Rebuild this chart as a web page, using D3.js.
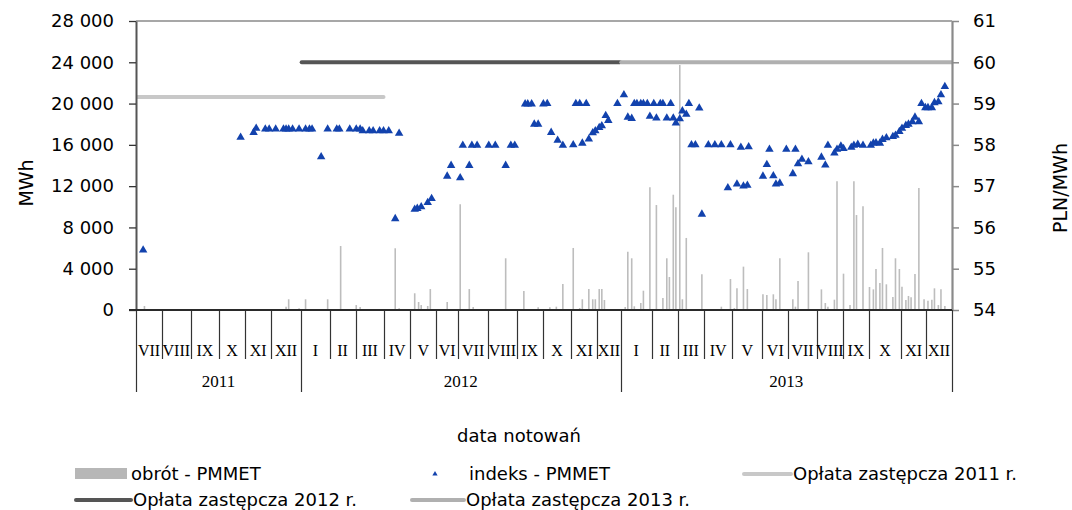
<!DOCTYPE html>
<html>
<head>
<meta charset="utf-8">
<script src="https://cdn.jsdelivr.net/npm/d3@7/dist/d3.min.js"></script>
<style>
    body { margin: 0; background: #fff; }
    svg { display: block; }
    text { font-family: 'DejaVu Sans', sans-serif; }
    .cat text { font-family: 'Liberation Serif', 'Times New Roman', serif; }
</style>
</head>
<body>
<div id="chart"></div>
<script>
const width = 1072;
const height = 510;

// trading sessions per month, Jul 2011 .. Dec 2013
const monthLabels = ['VII', 'VIII', 'IX', 'X', 'XI', 'XII',
    'I', 'II', 'III', 'IV', 'V', 'VI', 'VII', 'VIII', 'IX', 'X', 'XI', 'XII',
    'I', 'II', 'III', 'IV', 'V', 'VI', 'VII', 'VIII', 'IX', 'X', 'XI', 'XII'];
const monthSessions = [20, 22, 22, 20, 20, 23,
    22, 20, 22, 20, 20, 17, 23, 22, 20, 22, 20, 18,
    24, 20, 20, 22, 23, 20, 22, 20, 20, 25, 19, 20];
const yearLabels = ['2011', '2012', '2013'];
const yearMonths = [6, 12, 12];

// obrót - PMMET (MWh), by session number
const turnoverSessions = [6, 115, 117, 125, 130, 147, 157, 169, 172, 199, 202, 214, 217, 219, 224, 226, 239, 249, 256, 259,
    284, 298, 309, 318, 323, 328, 336, 341, 343, 348, 351, 353, 356, 358, 360, 376, 378, 381, 383, 388,
    390, 395, 400, 405, 408, 410, 413, 415, 418, 420, 423, 435, 450, 457, 460, 462, 467, 470, 482, 485,
    490, 492, 495, 505, 507, 509, 512, 517, 527, 530, 532, 537, 539, 544, 549, 552, 554, 559, 564, 567,
    569, 572, 574, 577, 582, 584, 587, 589, 592, 594, 596, 599, 602, 606, 609, 612, 614, 617, 619, 622];
const turnoverValues = [390, 320, 1040, 160, 1040, 1040, 6200, 480, 290, 5980, 160, 1620, 775, 480, 390, 2030, 775, 10240, 2030, 290,
    5010, 1840, 260, 260, 320, 2520, 6010, 190, 1040, 2030, 1040, 1040, 2030, 2030, 970, 290, 5650, 5010, 360, 680,
    1870, 11890, 10170, 1160, 5010, 3200, 11170, 9950, 23740, 1040, 6980, 3460, 320, 3000, 190, 2100, 4200, 2030, 1520, 1450,
    1520, 1040, 5010, 1040, 320, 2810, 80, 5590, 2000, 680, 320, 1000, 12470, 3520, 480, 12470, 9200, 10050, 2230, 2000,
    3970, 2620, 6010, 2490, 1260, 5010, 3970, 2260, 970, 1360, 1230, 3490, 11820, 1040, 900, 1000, 2100, 480, 2000, 390];

// indeks - PMMET (PLN/MWh), by session number
const indexSessions = [5, 80, 90, 92, 99, 102, 107, 113, 115, 117, 120, 125, 130, 133, 135, 142, 147, 154, 156, 164,
    169, 172, 174, 179, 182, 187, 190, 194, 199, 202, 214, 216, 219, 224, 227, 239, 242, 249, 251, 256,
    258, 262, 271, 276, 284, 288, 291, 299, 301, 304, 306, 309, 313, 316, 319, 324, 328, 336, 338, 341,
    343, 346, 348, 351, 353, 356, 358, 361, 363, 370, 375, 378, 381, 383, 385, 388, 390, 393, 395, 398,
    400, 403, 405, 408, 411, 413, 415, 418, 420, 423, 425, 427, 430, 433, 435, 440, 445, 450, 455, 457,
    462, 465, 467, 470, 471, 482, 485, 487, 490, 492, 495, 500, 505, 507, 509, 512, 517, 527, 530, 532,
    537, 539, 542, 544, 550, 552, 555, 559, 565, 567, 569, 572, 574, 577, 582, 584, 587, 589, 592, 594,
    597, 599, 602, 604, 607, 609, 612, 614, 617, 619, 622];
const indexValues = [55.45, 58.18, 58.30, 58.40, 58.38, 58.38, 58.38, 58.38, 58.38, 58.38, 58.38, 58.38, 58.38, 58.38, 58.38, 57.71, 58.38, 58.38, 58.38, 58.38,
    58.38, 58.38, 58.34, 58.34, 58.34, 58.34, 58.34, 58.34, 56.21, 58.28, 56.44, 56.46, 56.50, 56.60, 56.70, 57.24, 57.50, 57.20, 57.99, 57.50,
    57.99, 57.99, 57.99, 57.99, 57.50, 57.99, 57.99, 58.99, 58.99, 58.99, 58.50, 58.50, 58.99, 59.00, 58.30, 58.11, 57.99, 58.00, 59.00, 59.00,
    58.04, 59.00, 58.14, 58.29, 58.34, 58.42, 58.46, 58.71, 58.59, 59.00, 59.21, 58.67, 58.64, 59.00, 59.00, 59.00, 59.00, 59.00, 58.69, 59.00,
    58.65, 59.00, 59.00, 58.65, 59.00, 58.65, 58.53, 58.63, 58.82, 58.74, 59.00, 58.00, 58.00, 58.89, 56.32, 58.00, 58.00, 58.00, 56.96, 58.00,
    57.05, 57.94, 57.00, 57.02, 57.95, 57.24, 57.52, 57.89, 57.25, 57.05, 57.07, 57.89, 57.30, 57.89, 57.54, 57.65, 57.59, 57.70, 57.51, 57.99,
    57.80, 57.89, 57.97, 57.91, 57.94, 57.99, 58.01, 57.99, 57.99, 58.04, 58.05, 58.04, 58.13, 58.17, 58.20, 58.23, 58.32, 58.40, 58.47, 58.50,
    58.56, 58.67, 58.56, 59.00, 58.90, 58.90, 58.90, 59.02, 59.04, 59.21, 59.41];

// opłata zastępcza (PLN/MWh) and the sessions it spans
const feeNames = ['Opłata zastępcza 2011 r.', 'Opłata zastępcza 2012 r.', 'Opłata zastępcza 2013 r.'];
const feeValues = [59.16, 60, 60];
const feeFrom = [0, 127, 373];
const feeTo = [190, 372, 627];
const feeColors = ['#c8c8c8', '#555555', '#b0b0b0'];

const leftTicks = [0, 4000, 8000, 12000, 16000, 20000, 24000, 28000];
const rightTicks = [54, 55, 56, 57, 58, 59, 60, 61];

const margin = { left: 136, right: 952, top: 21, bottom: 310 };
const totalSessions = d3.sum(monthSessions);

const x = d3.scaleLinear().domain([0, totalSessions]).range([margin.left, margin.right]);
const yL = d3.scaleLinear().domain([0, 28000]).range([margin.bottom, margin.top]);
const yR = d3.scaleLinear().domain([54, 61]).range([margin.bottom, margin.top]);

const svg = d3.select('#chart').append('svg').attr('width', width).attr('height', height);
svg.append('rect').attr('width', width).attr('height', height).attr('fill', '#fff');

svg.append('clipPath').attr('id', 'plot')
    .append('rect')
    .attr('x', margin.left).attr('y', margin.top - 5)
    .attr('width', margin.right - margin.left).attr('height', margin.bottom - margin.top + 5);

// plot frame top
svg.append('line')
    .attr('x1', margin.left).attr('x2', margin.right)
    .attr('y1', margin.top).attr('y2', margin.top)
    .attr('stroke', '#8a8a8a').attr('stroke-width', 1.5);

// turnover bars
svg.append('g').selectAll('line')
    .data(turnoverSessions)
    .enter()
    .append('line')
    .attr('x1', function (d) { return x(d + 0.5); })
    .attr('x2', function (d) { return x(d + 0.5); })
    .attr('y1', yL(0))
    .attr('y2', function (d, i) { return yL(turnoverValues[i]); })
    .attr('stroke', '#bdbdbd')
    .attr('stroke-width', 1.6);

// fee lines
svg.append('g').attr('clip-path', 'url(#plot)')
    .selectAll('line')
    .data(feeValues)
    .enter()
    .append('line')
    .attr('x1', function (d, i) { return x(feeFrom[i] + 0.5); })
    .attr('x2', function (d, i) { return x(feeTo[i] + 0.5); })
    .attr('y1', function (d) { return yR(d); })
    .attr('y2', function (d) { return yR(d); })
    .attr('stroke', function (d, i) { return feeColors[i]; })
    .attr('stroke-width', 4)
    .attr('stroke-linecap', 'round');

// index markers
const tri = d3.symbol().type(d3.symbolTriangle).size(31);
svg.append('g').selectAll('path')
    .data(indexSessions)
    .enter()
    .append('path')
    .attr('d', tri)
    .attr('transform', function (d, i) {
        return 'translate(' + x(d + 0.5) + ',' + yR(indexValues[i]) + ')';
    })
    .attr('fill', '#1242ad');

// left axis
const fmt = function (d) { return d3.format(',')(d).replace(/,/g, ' '); };
const axL = svg.append('g')
    .attr('transform', 'translate(' + margin.left + ',0)')
    .call(d3.axisLeft(yL).tickValues(leftTicks).tickFormat(fmt).tickSize(7).tickPadding(15).tickSizeOuter(0));
axL.select('.domain').attr('stroke', '#555').attr('stroke-width', 2);
axL.selectAll('.tick line').attr('stroke', '#333').attr('stroke-width', 1.3);
axL.selectAll('text').attr('font-size', 18).attr('fill', '#000').attr('font-family', 'DejaVu Sans');

// right axis
const axR = svg.append('g')
    .attr('transform', 'translate(' + margin.right + ',0)')
    .call(d3.axisRight(yR).tickValues(rightTicks).tickFormat(d3.format('d')).tickSize(7).tickPadding(14).tickSizeOuter(0));
axR.select('.domain').attr('stroke', '#8a8a8a').attr('stroke-width', 2.2);
axR.selectAll('.tick line').attr('stroke', '#8a8a8a').attr('stroke-width', 1.5);
axR.selectAll('text').attr('font-size', 18).attr('fill', '#000').attr('font-family', 'DejaVu Sans');

// category axis: months and years
const cat = svg.append('g').attr('class', 'cat');
const monthEdges = [0].concat(Array.from(d3.cumsum(monthSessions)));
const yearEdges = [0];
let m = 0;
yearMonths.forEach(function (n) {
    m += n;
    yearEdges.push(monthEdges[m]);
});

cat.selectAll('.msep')
    .data(monthEdges)
    .enter()
    .append('line')
    .attr('class', 'msep')
    .attr('x1', function (d) { return Math.round(x(d)) + 0.5; })
    .attr('x2', function (d) { return Math.round(x(d)) + 0.5; })
    .attr('y1', margin.bottom)
    .attr('y2', function (d) { return yearEdges.indexOf(d) >= 0 ? 392 : 359; })
    .attr('stroke', '#333')
    .attr('stroke-width', 1.2);

cat.append('line')
    .attr('x1', margin.left - 7).attr('x2', margin.right)
    .attr('y1', margin.bottom).attr('y2', margin.bottom)
    .attr('stroke', '#2a2a2a').attr('stroke-width', 2);

cat.selectAll('.mlab')
    .data(monthLabels)
    .enter()
    .append('text')
    .attr('class', 'mlab')
    .attr('x', function (d, i) { return x((monthEdges[i] + monthEdges[i + 1]) / 2); })
    .attr('y', 350)
    .attr('dy', '0.35em')
    .attr('text-anchor', 'middle')
    .attr('font-size', 16)
    .text(function (d) { return d; });

cat.selectAll('.ylab')
    .data(yearLabels)
    .enter()
    .append('text')
    .attr('class', 'ylab')
    .attr('x', function (d, i) { return x((yearEdges[i] + yearEdges[i + 1]) / 2); })
    .attr('y', 381)
    .attr('dy', '0.35em')
    .attr('text-anchor', 'middle')
    .attr('font-size', 17)
    .text(function (d) { return d; });

// axis titles
svg.append('text')
    .attr('transform', 'translate(26,183) rotate(-90)')
    .attr('text-anchor', 'middle').attr('dy', '0.35em')
    .attr('font-size', 19)
    .text('MWh');
svg.append('text')
    .attr('transform', 'translate(1060,188) rotate(-90)')
    .attr('text-anchor', 'middle').attr('dy', '0.35em')
    .attr('font-size', 19)
    .text('PLN/MWh');
svg.append('text')
    .attr('x', 519).attr('y', 436).attr('dy', '0.35em')
    .attr('text-anchor', 'middle')
    .attr('font-size', 18)
    .text('data notowań');

// legend
const lg = svg.append('g').attr('font-size', 18);
lg.append('rect').attr('x', 75).attr('y', 468).attr('width', 52).attr('height', 11).attr('fill', '#b7b7b7');
lg.append('text').attr('x', 131).attr('y', 474).attr('dy', '0.35em').text('obrót - PMMET');
lg.append('path').attr('d', d3.symbol().type(d3.symbolTriangle).size(12))
    .attr('transform', 'translate(435,474)').attr('fill', '#1242ad');
lg.append('text').attr('x', 469).attr('y', 474).attr('dy', '0.35em').text('indeks - PMMET');

const legendLines = [
    { x1: 744, x2: 791, y: 474, text: 793 },
    { x1: 76, x2: 131, y: 500, text: 133 },
    { x1: 412, x2: 464, y: 500, text: 466 }
];
legendLines.forEach(function (l, i) {
    lg.append('line')
        .attr('x1', l.x1).attr('x2', l.x2).attr('y1', l.y).attr('y2', l.y)
        .attr('stroke', feeColors[i]).attr('stroke-width', 4).attr('stroke-linecap', 'round');
    lg.append('text').attr('x', l.text).attr('y', l.y).attr('dy', '0.35em').text(feeNames[i]);
});
</script>
</body>
</html>
